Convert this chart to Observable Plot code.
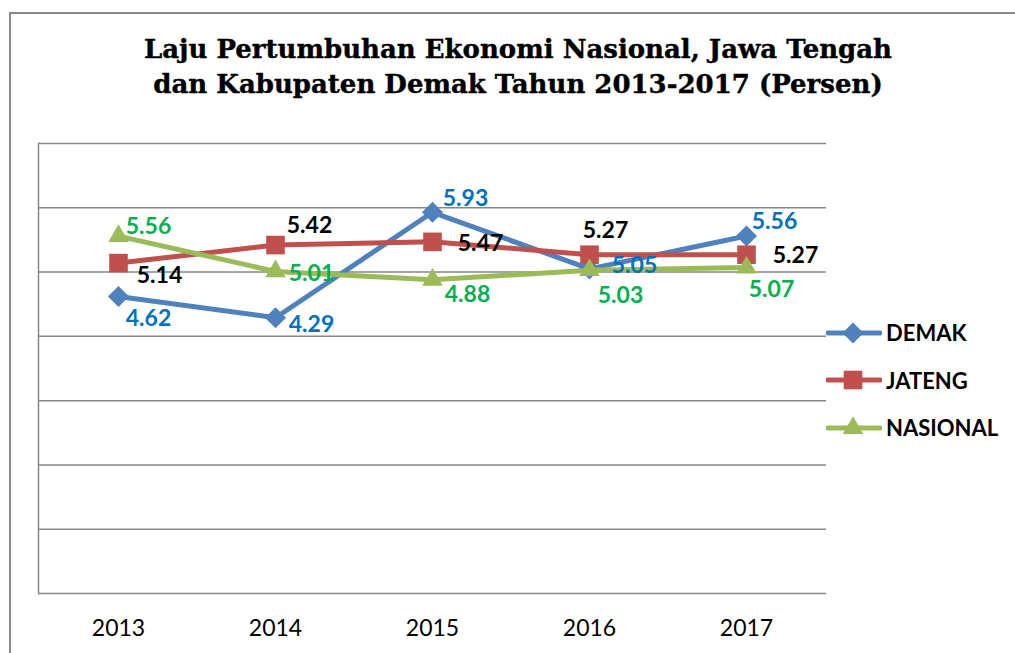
<!DOCTYPE html>
<html><head><meta charset="utf-8">
<script src="https://cdn.jsdelivr.net/npm/d3@7"></script>
<script src="https://cdn.jsdelivr.net/npm/@observablehq/plot@0.6"></script>
<style>
body{margin:0;background:#fff;}
#wrap{position:relative;width:1015px;height:653px;overflow:hidden;background:#fff;}
#frame{position:absolute;left:9px;top:12px;width:1100px;height:800px;border:2px solid #878787;box-sizing:border-box;}
#title{position:absolute;left:0;width:1036px;top:32px;text-align:center;font-family:"DejaVu Serif";font-weight:bold;font-size:26px;line-height:35px;color:#000;-webkit-text-stroke:0.4px #000;}
#chart{position:absolute;left:0;top:0;}
#legend{position:absolute;left:826px;top:309px;font-family:Lato;font-weight:bold;font-size:22px;}
.row{display:flex;align-items:center;height:47.5px;}
.row svg{display:block;margin-right:4px;}
</style></head>
<body>
<div id="wrap">
  <div id="frame"></div>
  <div id="chart"></div>
  <div id="title">Laju Pertumbuhan Ekonomi Nasional, Jawa Tengah<br>dan Kabupaten Demak Tahun 2013-2017 (Persen)</div>
  <div id="legend"></div>
</div>
<script>
const years = ["2013","2014","2015","2016","2017"];
const seriesNames = ["DEMAK","JATENG","NASIONAL"];
const demak = [4.62,4.29,5.93,5.05,5.56];
const jateng = [5.14,5.42,5.47,5.27,5.27];
const nasional = [5.56,5.01,4.88,5.03,5.07];
const yTicks = [0,1,2,3,4,5,6,7];

// styling / layout (not data)
const lineColors = ["#4F81BD","#C0504D","#9BBB59"];
const labelColors = ["#0070C0","#000000","#00B050"];
const symbols = ["diamond2","square","triangle"];
const symbolR = [9.5,10.5,7.6];
const labelOffsets = [
  [[30,22],[36,7],[33,-14],[45,-3],[28,-14]],
  [[41,13],[34,-19],[48,2],[16,-24],[49,1]],
  [[30,-9],[36,2],[35,15],[31,25],[25,22]]
];

const seriesValues = [demak, jateng, nasional];
const rows = [];
seriesNames.forEach((s,i)=>years.forEach((y,j)=>rows.push({series:s, si:i, year:y, yi:j, value:seriesValues[i][j]})));

const marks = [
  Plot.ruleY(yTicks, {stroke:"#878787", strokeWidth:1.5}),
  Plot.frame({anchor:"left", stroke:"#878787", strokeWidth:1.5}),
  Plot.axisX({tickSize:0, tickPadding:26, fontSize:23, fontFamily:"Lato", fill:"#000", label:null})
];
seriesNames.forEach((s,i)=>{
  const d = rows.filter(r=>r.si===i);
  marks.push(Plot.line(d, {x:"year", y:"value", stroke:lineColors[i], strokeWidth:5, strokeLinejoin:"round", strokeLinecap:"round"}));
  marks.push(Plot.dot(d, {x:"year", y:"value", symbol:()=>symbols[i], r:symbolR[i], fill:lineColors[i], stroke:"none"}));
});
rows.forEach(r=>{
  const [dx,dy] = labelOffsets[r.si][r.yi];
  marks.push(Plot.text([r], {x:"year", y:"value", text:d=>d.value.toFixed(2), dx, dy, fill:labelColors[r.si], fontSize:23, fontWeight:"bold", fontFamily:"Lato", textAnchor:"middle", lineAnchor:"middle"}));
});

const chart = Plot.plot({
  width:1015, height:653,
  marginLeft:38, marginRight:189, marginTop:143, marginBottom:60,
  x:{type:"point", domain:years, padding:0.5, axis:null, label:null},
  y:{domain:[0,7], axis:null},
  style:{background:"transparent", fontFamily:"Lato", overflow:"visible"},
  marks
});
document.getElementById("chart").appendChild(chart);

// legend
const leg = d3.select("#legend");
seriesNames.forEach((s,i)=>{
  const row = leg.append("div").attr("class","row");
  const svg = row.append("svg").attr("width",56).attr("height",24);
  svg.append("line").attr("x1",2).attr("x2",54).attr("y1",12).attr("y2",12)
    .attr("stroke",lineColors[i]).attr("stroke-width",5).attr("stroke-linecap","round");
  const type = {diamond2:d3.symbolDiamond2, square:d3.symbolSquare, triangle:d3.symbolTriangle}[symbols[i]];
  svg.append("path").attr("transform","translate(27,12)")
    .attr("d", d3.symbol(type, Math.PI*symbolR[i]*symbolR[i])())
    .attr("fill", lineColors[i]);
  row.append("span").text(s);
});
</script>
</body></html>
